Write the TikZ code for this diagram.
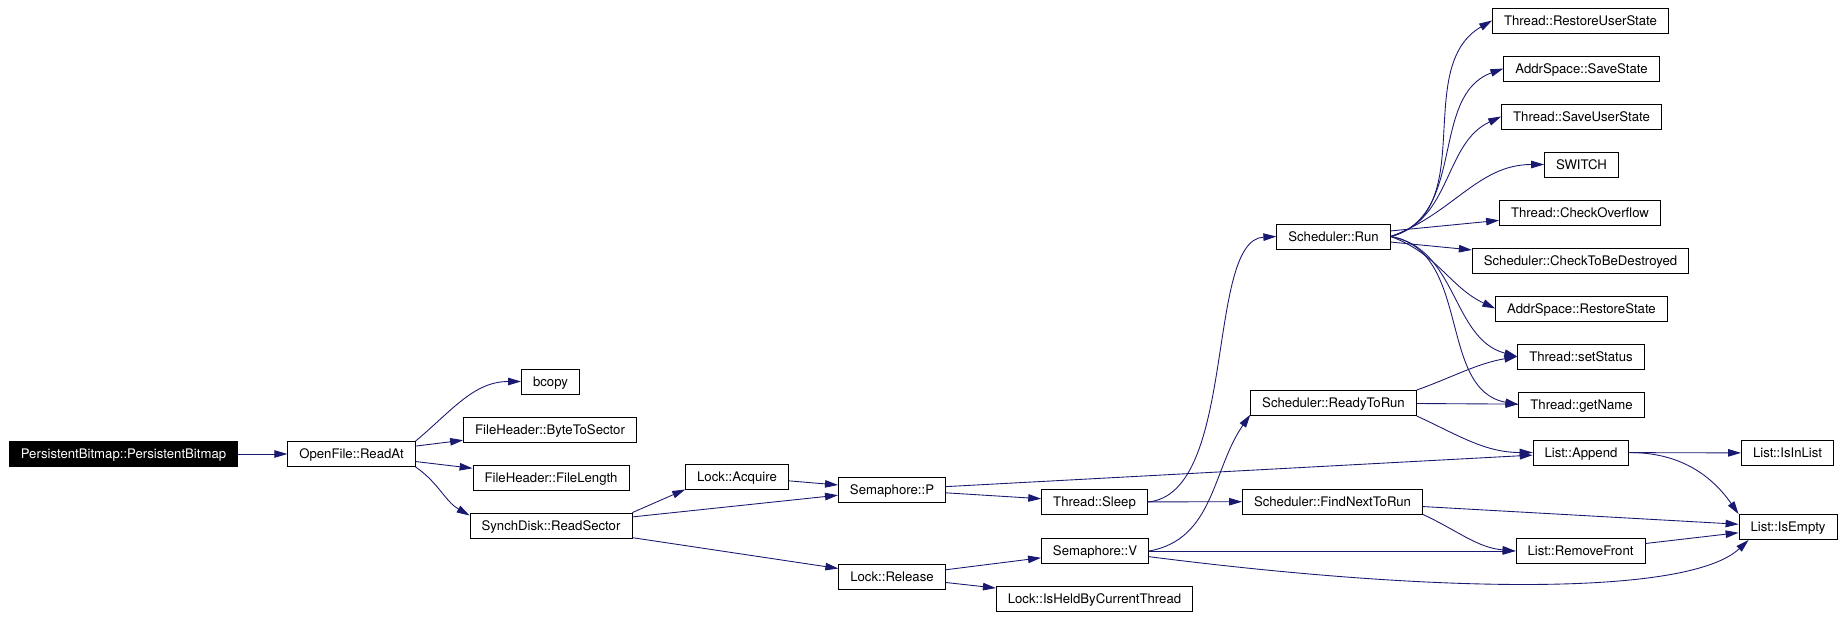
\documentclass[tikz,border=0pt]{standalone}
\usepackage{fontspec}
\setmainfont{TeX Gyre Heros}
\usetikzlibrary{arrows.meta}
\definecolor{edgecol}{HTML}{191970}
\begin{document}
\begin{tikzpicture}[x=0.02cm, y=0.02cm,
  func/.style={draw, line width=0.5pt, fill=white, minimum height=0.5cm, inner xsep=0.23cm, inner ysep=0pt, text height=5.4pt, text depth=0pt, font=\fontsize{7.5}{9}\selectfont},
  root/.style={func, fill=black, text=white},
  arr/.style={draw=edgecol, line width=0.5pt, -{Triangle[length=0.26cm, width=0.15cm]}}]
\useasboundingbox (0,0) rectangle (1844,-622);
\node[root] (pb) at (123.5,-454) {PersistentBitmap::PersistentBitmap};
\node[func] (readat) at (351.5,-454) {OpenFile::ReadAt};
\node[func] (bcopy) at (550.5,-381.5) {bcopy};
\node[func] (bytetosector) at (550,-429.5) {FileHeader::ByteToSector};
\node[func] (filelength) at (551,-477.5) {FileHeader::FileLength};
\node[func] (readsector) at (551,-525.5) {SynchDisk::ReadSector};
\node[func] (acquire) at (737,-476.5) {Lock::Acquire};
\node[func] (semp) at (892,-489.5) {Semaphore::P};
\node[func] (release) at (892,-576.5) {Lock::Release};
\node[func] (sleep) at (1094.5,-502) {Thread::Sleep};
\node[func] (semv) at (1095,-551) {Semaphore::V};
\node[func] (isheld) at (1094.5,-599) {Lock::IsHeldByCurrentThread};
\node[func] (run) at (1333.5,-236.5) {Scheduler::Run};
\node[func] (readytorun) at (1333.5,-403) {Scheduler::ReadyToRun};
\node[func] (findnext) at (1332.5,-501.5) {Scheduler::FindNextToRun};
\node[func] (restoreuser) at (1580.5,-20.5) {Thread::RestoreUserState};
\node[func] (savestate) at (1581.5,-68.5) {AddrSpace::SaveState};
\node[func] (saveuser) at (1581.5,-116.5) {Thread::SaveUserState};
\node[func] (switch) at (1581.5,-164.5) {SWITCH};
\node[func] (checkoverflow) at (1580,-212.5) {Thread::CheckOverflow};
\node[func] (checkdestroyed) at (1580.5,-260.5) {Scheduler::CheckToBeDestroyed};
\node[func] (restorestate) at (1581.5,-308.5) {AddrSpace::RestoreState};
\node[func] (setstatus) at (1581,-356.5) {Thread::setStatus};
\node[func] (getname) at (1581.5,-404.5) {Thread::getName};
\node[func] (append) at (1581,-452.5) {List::Append};
\node[func] (removefront) at (1580.5,-551) {List::RemoveFront};
\node[func] (isinlist) at (1787.5,-453) {List::IsInList};
\node[func] (isempty) at (1788,-527) {List::IsEmpty};
\draw[arr] (pb) -- (readat);
\draw[arr] (readat.north east) to[out=40,in=180] (bcopy.west);
\draw[arr] (readat) -- (bytetosector);
\draw[arr] (readat) -- (filelength);
\draw[arr] (readat.south east) to[out=-35,in=150] (readsector.173);
\draw[arr] (readsector.north east) -- (acquire.south west);
\draw[arr] (readsector) -- (semp);
\draw[arr] (readsector) -- (release);
\draw[arr] (acquire) -- (semp);
\draw[arr] (semp) -- (append);
\draw[arr] (semp) -- (sleep);
\draw[arr] (release) -- (semv);
\draw[arr] (release) -- (isheld);
\draw[arr] (sleep.east) .. controls (1238,-494) and (1205,-240) .. (run.west);
\draw[arr] (sleep) -- (findnext);
\draw[arr] (semv.east) to[out=10,in=235] (readytorun.188);
\draw[arr] (semv) -- (removefront);
\draw[arr] (semv.-6) .. controls (1450,-595) and (1690,-595) .. ([xshift=0.2cm]isempty.south west);
\draw[arr] (run.east) to[out=15,in=210] (restoreuser.west);
\draw[arr] (run.east) to[out=15,in=200] (savestate.west);
\draw[arr] (run.east) to[out=15,in=205] (saveuser.west);
\draw[arr] (run.east) to[out=20,in=180] (switch.west);
\draw[arr] (run) -- (checkoverflow);
\draw[arr] (run) -- (checkdestroyed);
\draw[arr] (run.east) to[out=-20,in=155] (restorestate.west);
\draw[arr] (run.east) to[out=-10,in=165] (setstatus.west);
\draw[arr] (run.east) to[out=-10,in=170] (getname.west);
\draw[arr] (readytorun.north east) to[out=20,in=190] (setstatus.west);
\draw[arr] (readytorun) -- (getname);
\draw[arr] (readytorun.south east) to[out=-25,in=180] (append.west);
\draw[arr] (findnext) -- (isempty);
\draw[arr] (findnext.south east) to[out=-25,in=175] (removefront.west);
\draw[arr] (append) -- (isinlist);
\draw[arr] (append.east) to[out=0,in=125] (isempty.north west);
\draw[arr] (removefront) -- (isempty);
\end{tikzpicture}
\end{document}
